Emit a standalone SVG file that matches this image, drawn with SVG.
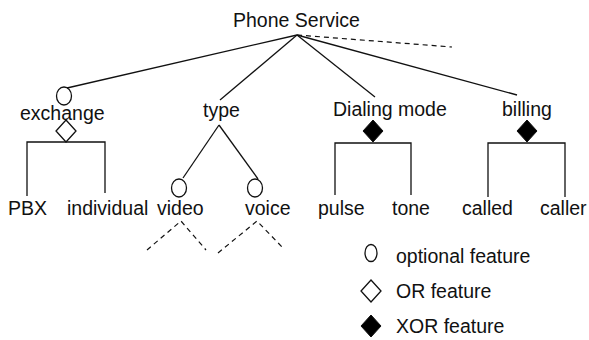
<svg xmlns="http://www.w3.org/2000/svg" width="589" height="340" viewBox="0 0 589 340">
  <style>
    text { font-family: "Liberation Sans", Arial, sans-serif; font-size: 19.5px; fill: #111; }
    .ln { stroke: #111; stroke-width: 1.3; fill: none; }
    .dash { stroke: #111; stroke-width: 1.2; fill: none; stroke-dasharray: 5 4; }
    .opt { stroke: #111; stroke-width: 1.3; fill: none; }
    .or { stroke: #111; stroke-width: 1.3; fill: none; }
    .xor { stroke: #111; stroke-width: 1; fill: #000; }
  </style>
  <defs>
    <polygon id="diamond" points="0,-11 10,0 0,11 -10,0"/>
  </defs>
  <rect width="589" height="340" fill="#fff"/>

  <!-- edges between features -->
  <g id="connectors">
    <line class="ln" x1="297" y1="35" x2="67" y2="88"/>
    <line class="ln" x1="297" y1="35" x2="220" y2="100"/>
    <line class="ln" x1="297" y1="35" x2="375" y2="97"/>
    <line class="ln" x1="297" y1="35" x2="517" y2="95"/>
    <line class="dash" x1="297" y1="35" x2="452" y2="47"/>
    <!-- type to its children -->
    <line class="ln" x1="219" y1="125" x2="183" y2="178"/>
    <line class="ln" x1="219" y1="125" x2="258" y2="179"/>
    <!-- exchange bracket -->
    <polyline class="ln" points="27,196 27,142 105,142 105,193"/>
    <!-- dialing mode bracket -->
    <polyline class="ln" points="335,195 335,143 411,143 411,195"/>
    <!-- billing bracket -->
    <polyline class="ln" points="488,197 488,143 565,143 565,197"/>
    <!-- elided children of video and voice -->
    <polyline class="dash" points="147,250 181,221 206,250"/>
    <polyline class="dash" points="218,253 257,221 283,248"/>
  </g>

  <g id="phone-service">
    <text x="233" y="27">Phone Service</text>
  </g>

  <g id="exchange">
    <ellipse class="opt" cx="64" cy="96" rx="7.5" ry="9"/>
    <text x="20" y="120">exchange</text>
    <use href="#diamond" class="or" x="66" y="131"/>
  </g>
  <g id="pbx"><text x="8" y="215">PBX</text></g>
  <g id="individual"><text x="67" y="215">individual</text></g>

  <g id="type"><text x="203" y="117">type</text></g>
  <g id="video">
    <ellipse class="opt" cx="179" cy="188" rx="7.5" ry="9"/>
    <text x="157" y="215">video</text>
  </g>
  <g id="voice">
    <ellipse class="opt" cx="255" cy="188" rx="7.5" ry="9"/>
    <text x="245" y="215">voice</text>
  </g>

  <g id="dialing-mode">
    <text x="333" y="116">Dialing mode</text>
    <use href="#diamond" class="xor" x="373" y="131"/>
  </g>
  <g id="pulse"><text x="318" y="215">pulse</text></g>
  <g id="tone"><text x="392" y="215">tone</text></g>

  <g id="billing">
    <text x="502" y="116">billing</text>
    <use href="#diamond" class="xor" x="527" y="131"/>
  </g>
  <g id="called"><text x="462" y="215">called</text></g>
  <g id="caller"><text x="540" y="215">caller</text></g>

  <!-- legend -->
  <g id="legend">
    <ellipse class="opt" cx="371" cy="253" rx="6" ry="8.5"/>
    <text x="396" y="263">optional feature</text>
    <use href="#diamond" class="or" x="371" y="291"/>
    <text x="396" y="298">OR feature</text>
    <use href="#diamond" class="xor" x="371" y="326"/>
    <text x="396" y="333">XOR feature</text>
  </g>
</svg>
